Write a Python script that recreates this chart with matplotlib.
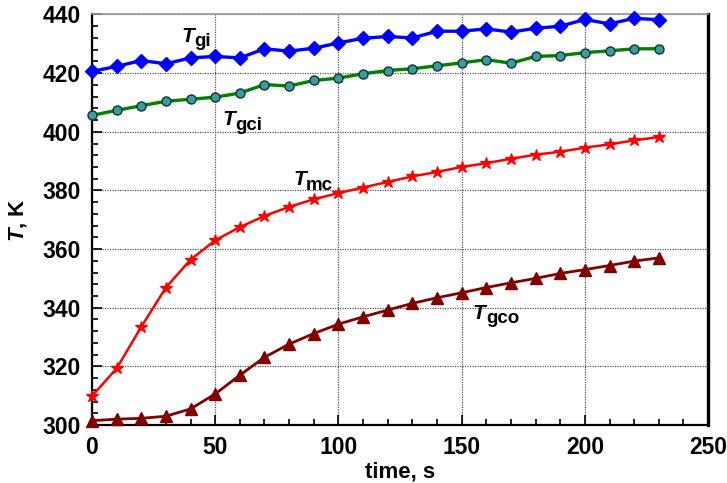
#!/usr/bin/env python3

import matplotlib
matplotlib.use('Agg')
import matplotlib.pyplot as plt
from matplotlib.ticker import MultipleLocator
from matplotlib.transforms import offset_copy

# time points, s
time_s = list(range(0, 240, 10))

# temperatures, K
t_gi = [420.6, 422.3, 424.3, 423.2, 425.2, 425.7, 425.2, 428.3, 427.5, 428.5,
        430.3, 431.9, 432.5, 432.0, 434.3, 434.3, 435.1, 434.0, 435.3, 436.0,
        438.3, 436.8, 438.7, 438.2]
t_gci = [405.6, 407.3, 408.9, 410.4, 411.1, 411.8, 413.2, 416.1, 415.6, 417.5,
         418.3, 419.8, 420.9, 421.5, 422.5, 423.5, 424.6, 423.4, 425.7, 426.0,
         427.0, 427.6, 428.3, 428.3]
t_mc = [309.9, 319.3, 333.5, 346.9, 356.4, 363.0, 367.5, 371.3, 374.4, 377.0,
        379.1, 381.0, 382.9, 384.8, 386.3, 388.0, 389.3, 390.8, 392.2, 393.2,
        394.6, 395.7, 397.1, 398.2]
t_gco = [301.5, 302.0, 302.3, 303.0, 305.5, 310.6, 317.0, 323.1, 327.6, 331.2,
         334.4, 336.9, 339.2, 341.5, 343.4, 345.1, 346.9, 348.5, 350.0, 351.7,
         353.0, 354.4, 355.9, 357.0]

# curve labels: (subscript, time, temperature at baseline of "T")
curve_labels = [
    ('gi', 36.4, 430.6),
    ('gci', 53.0, 402.2),
    ('mc', 81.6, 381.7),
    ('gco', 154.5, 336.3),
]


def main():
    plt.rcParams['font.family'] = ['Liberation Sans', 'DejaVu Sans']
    plt.rcParams['font.weight'] = 'bold'
    plt.rcParams['mathtext.fontset'] = 'custom'
    plt.rcParams['mathtext.rm'] = 'Liberation Sans:bold'
    plt.rcParams['mathtext.bf'] = 'Liberation Sans:bold'
    plt.rcParams['mathtext.it'] = 'Liberation Sans:italic:bold'

    fig = plt.figure(figsize=(7.27, 4.83), dpi=100)
    ax = fig.add_axes([0.1265, 0.120, 0.8475, 0.850])

    ax.plot(time_s, t_gi, color='#0000ff', lw=2.4, marker='D', ms=7,
            mfc='#0000ff', mec='#0000ff', clip_on=False, zorder=3)
    ax.plot(time_s, t_gci, color='#008000', lw=2.4, marker='o', ms=6.5,
            mfc='#3c9c9c', mec='#0b3535', mew=1.0, clip_on=False, zorder=3)
    ax.plot(time_s, t_mc, color='#ff0000', lw=1.8, marker='*', ms=9,
            mfc='#ff0000', mec='#ff0000', clip_on=False, zorder=3)
    ax.plot(time_s, t_gco, color='#800000', lw=2.0, marker='^', ms=8,
            mfc='#800000', mec='#800000', clip_on=False, zorder=3)

    # "T" plus a large subscript, drawn as two texts
    sub_tr = offset_copy(ax.transData, fig=fig, x=9.4, y=-3.2, units='points')
    for sub, x, y in curve_labels:
        ax.text(x, y, 'T', fontsize=15, fontstyle='italic', fontweight='bold',
                ha='left', va='baseline', zorder=4)
        ax.text(x, y, sub, fontsize=13.5, fontweight='bold', ha='left',
                va='baseline', transform=sub_tr, zorder=4)

    ax.set_xlim([0, 250])
    ax.set_ylim([300, 440])
    ax.xaxis.set_major_locator(MultipleLocator(50))
    ax.xaxis.set_minor_locator(MultipleLocator(10))
    ax.yaxis.set_major_locator(MultipleLocator(20))
    ax.yaxis.set_minor_locator(MultipleLocator(4))

    ax.grid(True, which='major', color='#555555', lw=0.9, ls=(0, (1, 1)))
    ax.set_axisbelow(True)

    ax.tick_params(which='both', direction='in', top=False, right=False,
                   labelsize=16.5, width=1.2, color='black')
    ax.tick_params(which='major', length=7, pad=8)
    ax.tick_params(which='minor', length=4)

    for side in ('left', 'bottom', 'right'):
        ax.spines[side].set_color('black')
        ax.spines[side].set_linewidth(1.6)
    ax.spines['right'].set_linewidth(2.4)
    ax.spines['top'].set_color('#9a9a9a')
    ax.spines['top'].set_linewidth(1.2)

    ax.set_xlabel('time, s', fontsize=16, fontweight='bold', labelpad=2)
    ax.set_ylabel(r'$T$, K', fontsize=16, fontweight='bold', labelpad=10)

    fig.savefig('out.png', dpi=100)


if __name__ == '__main__':
    main()
